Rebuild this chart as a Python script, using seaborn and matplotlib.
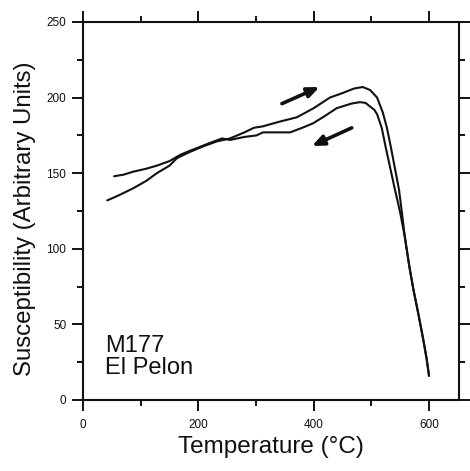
import matplotlib
matplotlib.use("Agg")
import matplotlib.pyplot as plt
import seaborn as sns
import pandas as pd
from matplotlib.ticker import MultipleLocator

# ---- data ----
heat_T = [42, 60, 87, 110, 128, 150, 163, 185, 210, 232, 255, 280, 296, 312, 340,
          371, 400, 428, 450, 470, 485, 498, 510, 520, 527, 534, 541, 548, 553,
          558, 566, 573, 582, 590, 596, 600]
heat_S = [132, 135, 140, 145, 150, 155, 160, 164, 168, 171, 173, 177, 180, 181, 184,
          187, 193, 200, 203, 206, 207, 205, 200, 190, 180, 167, 153, 139, 124,
          108, 88, 73, 56, 40, 27, 16]

cool_T = [54, 70, 87, 110, 128, 150, 168, 180, 200, 220, 241, 255, 280, 301, 312,
          335, 359, 380, 399, 420, 440, 465, 480, 490, 498, 505, 510, 518, 525,
          533, 541, 550, 558, 566, 573, 582, 590, 596, 600]
cool_S = [148, 149, 151, 153, 155, 158, 162, 164, 167, 170, 173, 172, 174, 175, 177,
          177, 177, 180, 183, 188, 193, 196, 197, 196.5, 194, 192, 189, 180, 167,
          153, 139, 124, 108, 88, 73, 56, 40, 27, 16]

# arrows: (tail T, tail S, head T, head S)
arrow_heat = (345, 196, 410, 207)
arrow_cool = (466, 180, 397, 168)

x_major = [0, 200, 400, 600]
y_major = [0, 50, 100, 150, 200, 250]

sample_text = "M177\nEl Pelon"

# ---- plot ----
sns.set_style("ticks")
plt.rcParams['font.family'] = ['Liberation Sans', 'DejaVu Sans']

fig = plt.figure(figsize=(4.70, 4.71), dpi=100)
ax = fig.add_axes([83/470, 1-400/471, (459-83)/470, (400-22)/471])

df = pd.concat([
    pd.DataFrame({"T": heat_T, "S": heat_S, "run": "heating"}),
    pd.DataFrame({"T": cool_T, "S": cool_S, "run": "cooling"}),
])
for run in ["heating", "cooling"]:
    sns.lineplot(data=df[df.run == run], x="T", y="S", sort=False,
                 color="#111111", linewidth=1.5, ax=ax, legend=False)

for (t0, s0, t1, s1) in [arrow_heat, arrow_cool]:
    ax.annotate("", xy=(t1, s1), xytext=(t0, s0),
                arrowprops=dict(arrowstyle="-|>,head_length=0.7,head_width=0.3",
                                lw=2.6, color="#111111", shrinkA=0, shrinkB=0))

ax.text(38, 43, sample_text, fontsize=17, va="top", ha="left",
        linespacing=1.0, color="#111111")

ax.set_xlim(0, 652)
ax.set_ylim(0, 250)
ax.set_xticks(x_major)
ax.set_yticks(y_major)
ax.xaxis.set_minor_locator(MultipleLocator(100))
ax.yaxis.set_minor_locator(MultipleLocator(25))

ax.tick_params(which="both", direction="out", top=True, right=True,
               labeltop=False, labelright=False, width=1.4, color="#111111",
               labelsize=8.5, labelcolor="#111111")
ax.tick_params(which="major", length=8, pad=4)
ax.tick_params(axis="x", which="major", pad=5.5)
ax.tick_params(which="minor", length=4.5)

for sp in ax.spines.values():
    sp.set_linewidth(1.5)
    sp.set_color("#111111")

ax.set_xlabel("Temperature (°C)", fontsize=17.5, labelpad=4, color="#111111")
ax.set_ylabel("Susceptibility (Arbitrary Units)", fontsize=17.3, color="#111111")
ax.yaxis.set_label_coords(-0.125, 0.48)

fig.savefig("out.png", dpi=100)
